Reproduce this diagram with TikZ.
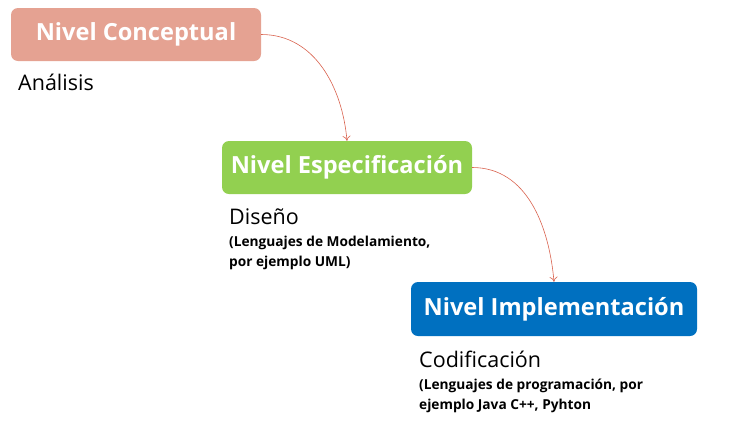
\documentclass[tikz,border=0pt]{standalone}
\usepackage{fontspec}
\setmainfont{Open Sans}
\usetikzlibrary{arrows.meta}
\begin{document}
\begin{tikzpicture}[x=1pt,y=-1pt]
  \definecolor{concepto}{HTML}{E5A292}
  \definecolor{especif}{HTML}{92D050}
  \definecolor{implem}{HTML}{0070C0}
  \definecolor{flecha}{HTML}{D9624E}
  \tikzset{nivel/.style={rounded corners=7pt,text=white,inner sep=0pt,
      font=\fontsize{23.6}{27}\selectfont\bfseries},
    etapa/.style={anchor=base west,inner sep=0pt,font=\fontsize{21.5}{24}\selectfont},
    nota/.style={anchor=north west,inner sep=0pt,align=left,
      font=\fontsize{13.7}{19.5}\selectfont\bfseries},
    paso/.style={flecha,line width=0.6pt,-{To[length=5pt,width=8pt]}}}
  \useasboundingbox (0,0) rectangle (746,445);
  \node [nivel,fill=concepto,minimum width=250pt,minimum height=53pt] (conc) at (136,34.5) {Nivel Conceptual};
  \node [nivel,fill=especif,minimum width=250pt,minimum height=53pt] (espe) at (347,167.5) {Nivel Especificación};
  \node [nivel,fill=implem,minimum width=286pt,minimum height=54pt] (impl) at (554,309) {Nivel Implementación};
  \node [etapa] (anal) at (18,90) {Análisis};
  \node [etapa] (dise) at (229,224) {Diseño};
  \node [nota] (disen) at (229,236) {(Lenguajes de Modelamiento,\\por ejemplo UML)};
  \node [etapa] (codi) at (419,367) {Codificación};
  \node [nota] (codin) at (419,379) {(Lenguajes de programación, por\\ejemplo Java C++, Pyhton};
  \draw [paso] (conc.east) to [out=0,in=95] (espe.north);
  \draw [paso] (espe.east) to [out=0,in=95] (impl.north);
\end{tikzpicture}
\end{document}
